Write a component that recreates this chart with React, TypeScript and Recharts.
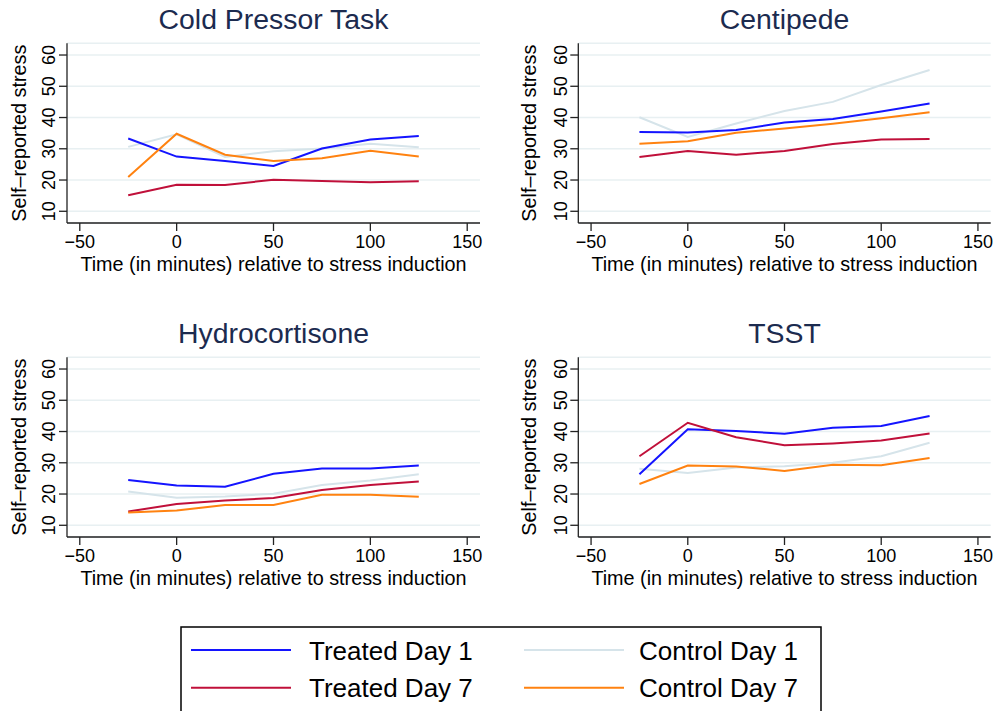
import { LineChart, Line, XAxis, YAxis, CartesianGrid } from 'recharts';

// time points (minutes relative to stress induction)
const times = [-25, 0, 25, 50, 75, 100, 125];

const seriesNames = ['Treated Day 1', 'Treated Day 7', 'Control Day 1', 'Control Day 7'];
const seriesKeys = ['t1', 't7', 'c1', 'c7'];
const seriesColors = ['#1414ff', '#c0103a', '#d6e4ea', '#ff8210'];

const xTicks = [-50, 0, 50, 100, 150];
const yTicks = [10, 20, 30, 40, 50, 60];

// Cold Pressor Task
const cptT1 = [33.3, 27.5, 26.1, 24.5, 30.1, 33.0, 34.1];
const cptT7 = [15.1, 18.5, 18.4, 20.1, 19.7, 19.3, 19.6];
const cptC1 = [30.6, 34.6, 27.4, 29.2, 30.1, 31.6, 30.5];
const cptC7 = [21.0, 34.8, 28.1, 26.1, 27.0, 29.4, 27.5];

// Centipede
const cenT1 = [35.4, 35.2, 36.0, 38.4, 39.5, 41.9, 44.5];
const cenT7 = [27.4, 29.3, 28.1, 29.3, 31.5, 33.0, 33.1];
const cenC1 = [40.1, 33.8, 38.1, 42.1, 45.0, 50.4, 55.2];
const cenC7 = [31.6, 32.4, 35.1, 36.5, 38.0, 39.8, 41.7];

// Hydrocortisone
const hydT1 = [24.5, 22.7, 22.3, 26.5, 28.2, 28.2, 29.1];
const hydT7 = [14.4, 16.8, 17.9, 18.7, 21.3, 22.9, 24.0];
const hydC1 = [20.8, 18.8, 19.2, 20.1, 22.9, 24.3, 26.3];
const hydC7 = [14.1, 14.7, 16.5, 16.5, 19.8, 19.8, 19.1];

// TSST
const tsstT1 = [26.3, 40.7, 40.2, 39.3, 41.2, 41.8, 45.0];
const tsstT7 = [32.1, 42.8, 38.2, 35.6, 36.2, 37.1, 39.4];
const tsstC1 = [28.1, 26.7, 28.5, 28.9, 30.0, 32.1, 36.4];
const tsstC7 = [23.2, 29.1, 28.8, 27.4, 29.4, 29.2, 31.5];

const build = (t1: number[], t7: number[], c1: number[], c7: number[]) =>
  times.map((t, i) => ({ time: t, t1: t1[i], t7: t7[i], c1: c1[i], c7: c7[i] }));

const panels = [
  { title: 'Cold Pressor Task', data: build(cptT1, cptT7, cptC1, cptC7), left: 0, top: 0, width: 490, yw: 67, right: 10 },
  { title: 'Centipede', data: build(cenT1, cenT7, cenC1, cenC7), left: 510, top: 0, width: 491, yw: 68.3, right: 10.3 },
  { title: 'Hydrocortisone', data: build(hydT1, hydT7, hydC1, hydC7), left: 0, top: 314.3, width: 490, yw: 67, right: 10 },
  { title: 'TSST', data: build(tsstT1, tsstT7, tsstC1, tsstC7), left: 510, top: 314.3, width: 491, yw: 68.3, right: 10.3 },
];

const font = '"Liberation Sans", Arial, Helvetica, sans-serif';
const H = 285;
const MT = 43.3;
const XH = 62;

const fmt = (v: number) => String(v).replace('-', '\u2212');

const YTick = (props: any) => {
  const { x, y, payload } = props;
  return (
    <text x={x} y={y} transform={`rotate(-90 ${x} ${y})`} textAnchor="middle" fontSize={18} fill="#000" fontFamily={font}>
      {payload.value}
    </text>
  );
};

const order = [2, 0, 1, 3];

const Panel = ({ p }: { p: typeof panels[number] }) => (
  <div style={{ position: 'absolute', left: p.left, top: p.top }}>
    <LineChart width={p.width} height={H} data={p.data} margin={{ top: MT, right: p.right, bottom: 0, left: 0 }}>
      <CartesianGrid vertical={false} stroke="#e8f0f2" strokeWidth={1.4} />
      <XAxis
        dataKey="time"
        type="number"
        domain={[-56.6, 156.6]}
        ticks={xTicks}
        tickFormatter={fmt}
        height={XH}
        tickSize={8}
        tickMargin={4}
        stroke="#222"
        strokeWidth={1.3}
        tick={{ fontSize: 18, fill: '#000', fontFamily: font }}
        label={{ value: 'Time (in minutes) relative to stress induction', position: 'insideBottom', offset: 14, fontSize: 19.8, fill: '#000', fontFamily: font }}
      />
      <YAxis
        type="number"
        domain={[6.25, 63.75]}
        ticks={yTicks}
        width={p.yw}
        tickSize={8}
        tickMargin={3.5}
        stroke="#222"
        strokeWidth={1.3}
        tick={<YTick />}
        label={{ value: 'Self\u2013reported stress', angle: -90, position: 'insideLeft', offset: 18.5, fontSize: 19.8, fill: '#000', fontFamily: font, style: { textAnchor: 'middle' } }}
      />
      {order.map((i) => (
        <Line
          key={seriesKeys[i]}
          type="linear"
          dataKey={seriesKeys[i]}
          stroke={seriesColors[i]}
          strokeWidth={2}
          dot={false}
          isAnimationActive={false}
        />
      ))}
    </LineChart>
  </div>
);

export default function App() {
  return (
    <div style={{ position: 'absolute', left: 0, top: 0, width: 1001, height: 711, background: '#fff', overflow: 'hidden' }}>
      {panels.map((p) => (
        <Panel key={p.title} p={p} />
      ))}
      <svg width={1001} height={711} style={{ position: 'absolute', left: 0, top: 0, pointerEvents: 'none' }}>
        {panels.map((p) => (
          <text
            key={p.title}
            x={p.left + p.yw + (p.width - p.yw - p.right) / 2}
            y={p.top + 28.5}
            textAnchor="middle"
            fontSize={28.4}
            fill="#1c2b4f"
            fontFamily={font}
          >
            {p.title}
          </text>
        ))}
        <rect x={181} y={627} width={640} height={100} fill="#fff" stroke="#000" strokeWidth={1.5} />
        {seriesNames.map((name, i) => {
          const col = i < 2 ? 0 : 1;
          const row = i % 2;
          const lx = col === 0 ? 191 : 524;
          const tx = col === 0 ? 309 : 639;
          const ly = row === 0 ? 650 : 687.7;
          return (
            <g key={name}>
              <line x1={lx} x2={lx + 100} y1={ly} y2={ly} stroke={seriesColors[i]} strokeWidth={2} />
              <text x={tx} y={ly + 9.5} fontSize={26} fill="#000" fontFamily={font}>
                {name}
              </text>
            </g>
          );
        })}
      </svg>
    </div>
  );
}
